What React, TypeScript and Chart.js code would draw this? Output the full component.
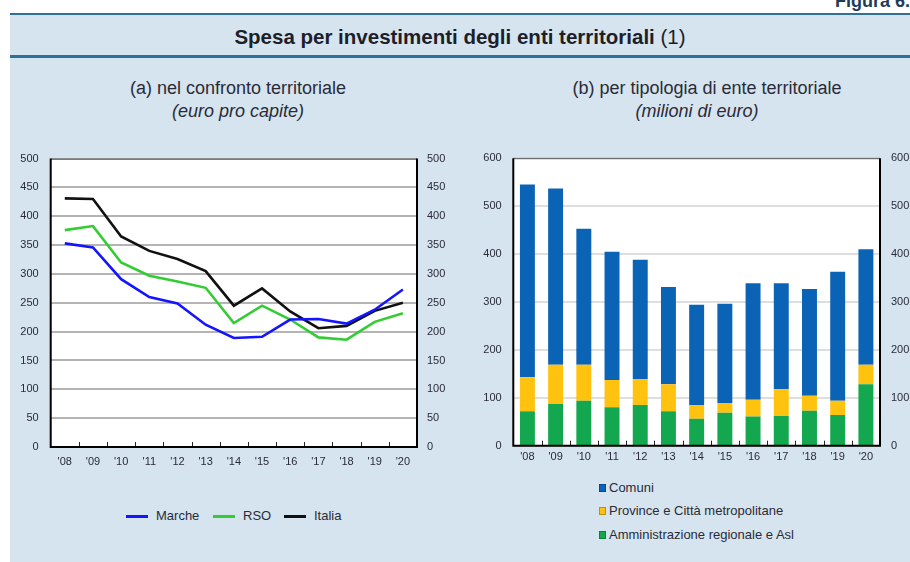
import React, { useEffect, useRef } from "react";
import { Chart, registerables } from "chart.js";

Chart.register(...registerables);

// ---------- data ----------
const years = ["'08", "'09", "'10", "'11", "'12", "'13", "'14", "'15", "'16", "'17", "'18", "'19", "'20"];

// panel (a): euro pro capite
const marche = [353, 346, 291, 260, 249, 212, 189, 191, 221, 222, 214, 238, 273];
const rso = [376, 383, 320, 297, 287, 276, 215, 245, 221, 190, 186, 217, 232];
const italia = [431, 430, 365, 340, 326, 305, 245, 275, 235, 206, 210, 236, 250];
const leftAxisMax = 500;
const leftAxisStep = 50;

// panel (b): milioni di euro
const amministrazione = [72, 87, 94, 80, 85, 72, 56, 69, 61, 62, 73, 64, 128];
const province = [71, 82, 75, 57, 54, 56, 29, 20, 35, 56, 31, 30, 41];
const comuni = [402, 368, 284, 268, 249, 203, 209, 207, 243, 221, 223, 269, 241];
const rightAxisMax = 600;
const rightAxisStep = 100;

const lineSeries = [
  { label: "Marche", data: marche, color: "#1414ff" },
  { label: "RSO", data: rso, color: "#33cc33" },
  { label: "Italia", data: italia, color: "#111111" },
];
const barSeries = [
  { label: "Amministrazione regionale e Asl", data: amministrazione, color: "#13a84f" },
  { label: "Province e Città metropolitane", data: province, color: "#ffc20e" },
  { label: "Comuni", data: comuni, color: "#0b63b6" },
];

// ---------- styles ----------
const FONT = "'Liberation Sans', Arial, sans-serif";
const TEXT = "#2b2b38";
const PANEL_BG = "#d5e4ee";
const RULE = "#2e7097";

// white plot area, grid lines and inward category ticks, then the frame on top
const makeAreaPlugin = (gridColor: string, gridWidth: number) => ({
  id: "areaFrame",
  beforeDatasetsDraw(chart: any) {
    const { ctx, chartArea: a, scales } = chart;
    if (!a) return;
    ctx.save();
    ctx.fillStyle = "#ffffff";
    ctx.fillRect(a.left, a.top, a.right - a.left, a.bottom - a.top);
    const y = scales.y;
    ctx.strokeStyle = gridColor;
    ctx.lineWidth = gridWidth;
    y.ticks.forEach((t: any) => {
      const py = Math.round(y.getPixelForValue(t.value));
      ctx.beginPath();
      ctx.moveTo(a.left, py);
      ctx.lineTo(a.right, py);
      ctx.stroke();
    });
    const x = scales.x;
    ctx.strokeStyle = "#222";
    ctx.lineWidth = 1;
    for (let i = 1; i < x.ticks.length; i++) {
      const px = Math.round((x.getPixelForTick(i - 1) + x.getPixelForTick(i)) / 2) + 0.5;
      ctx.beginPath();
      ctx.moveTo(px, a.bottom);
      ctx.lineTo(px, a.bottom - 5);
      ctx.stroke();
    }
    ctx.restore();
  },
  afterDatasetsDraw(chart: any) {
    const { ctx, chartArea: a } = chart;
    if (!a) return;
    ctx.save();
    ctx.strokeStyle = "#555555";
    ctx.lineWidth = 1;
    ctx.beginPath();
    ctx.moveTo(a.left, a.top + 0.5);
    ctx.lineTo(a.right, a.top + 0.5);
    ctx.stroke();
    ctx.strokeStyle = "#000000";
    ctx.lineWidth = 2;
    ctx.beginPath();
    ctx.moveTo(a.left, a.top);
    ctx.lineTo(a.left, a.bottom);
    ctx.lineTo(a.right, a.bottom);
    ctx.lineTo(a.right, a.top);
    ctx.stroke();
    ctx.restore();
  },
});

const tickFont = { family: FONT, size: 11 };
const noGrid = { display: false, drawTicks: false };

function LineChart() {
  const ref = useRef<HTMLCanvasElement>(null);
  useEffect(() => {
    if (!ref.current) return;
    const chart = new Chart(ref.current, {
      type: "line",
      data: {
        labels: years,
        datasets: lineSeries.map((s) => ({
          label: s.label,
          data: s.data,
          borderColor: s.color,
          backgroundColor: s.color,
          borderWidth: 2.6,
          pointRadius: 0,
          tension: 0,
          fill: false,
        })),
      },
      options: {
        responsive: false,
        animation: false,
        layout: { padding: { top: 12, left: 0, right: 0, bottom: 0 } },
        plugins: { legend: { display: false }, tooltip: { enabled: false } },
        scales: {
          x: {
            offset: true,
            grid: noGrid,
            border: { display: false },
            ticks: { padding: 8, maxRotation: 0, autoSkip: false, color: TEXT, font: tickFont },
            afterFit: (s: any) => { s.height = 23; },
          },
          y: {
            min: 0,
            max: leftAxisMax,
            ticks: { stepSize: leftAxisStep, padding: 12, color: TEXT, font: tickFont },
            grid: noGrid,
            border: { display: false },
            afterFit: (s: any) => { s.width = 40.7; },
          },
          y2: {
            position: "right",
            min: 0,
            max: leftAxisMax,
            ticks: { stepSize: leftAxisStep, padding: 10, color: TEXT, font: tickFont },
            grid: noGrid,
            border: { display: false },
            afterFit: (s: any) => { s.width = 53; },
          },
        },
      } as any,
      plugins: [makeAreaPlugin("#b4b4b4", 2)],
    });
    return () => chart.destroy();
  }, []);
  return <canvas ref={ref} width={460} height={330} style={{ position: "absolute", left: 10, top: 140, width: 460, height: 330 }} />;
}

function BarChart() {
  const ref = useRef<HTMLCanvasElement>(null);
  useEffect(() => {
    if (!ref.current) return;
    const chart = new Chart(ref.current, {
      type: "bar",
      data: {
        labels: years,
        datasets: barSeries.map((s) => ({
          label: s.label,
          data: s.data,
          backgroundColor: s.color,
          borderWidth: 0,
          barPercentage: 0.53,
          categoryPercentage: 1,
        })),
      },
      options: {
        responsive: false,
        animation: false,
        layout: { padding: { top: 12.7, left: 0, right: 0, bottom: 0 } },
        plugins: { legend: { display: false }, tooltip: { enabled: false } },
        scales: {
          x: {
            stacked: true,
            offset: true,
            grid: noGrid,
            border: { display: false },
            ticks: { padding: 5, maxRotation: 0, autoSkip: false, color: TEXT, font: tickFont },
            afterFit: (s: any) => { s.height = 24.3; },
          },
          y: {
            stacked: true,
            min: 0,
            max: rightAxisMax,
            ticks: { stepSize: rightAxisStep, padding: 11.6, color: TEXT, font: tickFont },
            grid: noGrid,
            border: { display: false },
            afterFit: (s: any) => { s.width = 43.3; },
          },
          y2: {
            position: "right",
            min: 0,
            max: rightAxisMax,
            ticks: { stepSize: rightAxisStep, padding: 11, color: TEXT, font: tickFont },
            grid: noGrid,
            border: { display: false },
            afterFit: (s: any) => { s.width = 60; },
          },
        },
      } as any,
      plugins: [makeAreaPlugin("#bdbdbd", 1)],
    });
    return () => chart.destroy();
  }, []);
  return <canvas ref={ref} width={470} height={330} style={{ position: "absolute", left: 470, top: 140, width: 470, height: 330 }} />;
}

const abs = (o: React.CSSProperties): React.CSSProperties => ({ position: "absolute", ...o });

export default function App() {
  const centered = (x: number, y: number, txt: string, extra: React.CSSProperties = {}) => (
    <div style={abs({ left: x - 200, top: y, width: 400, textAlign: "center", fontFamily: FONT, fontSize: 18, color: TEXT, whiteSpace: "nowrap", lineHeight: "20px", ...extra })}>{txt}</div>
  );
  return (
    <div style={{ position: "fixed", left: 0, top: 0, width: 910, height: 562, overflow: "hidden", background: "#ffffff" }}>
      <div style={abs({ left: 835, top: -8, fontFamily: FONT, fontWeight: "bold", fontSize: 18, lineHeight: "18px", color: "#1f3b5c", whiteSpace: "nowrap" })}>Figura 6.</div>
      <div style={abs({ left: 10, top: 13, right: 0, bottom: 0, background: PANEL_BG })} />
      <div style={abs({ left: 10, top: 12.5, right: 0, height: 2.5, background: RULE })} />
      <div style={abs({ left: 10, top: 55, right: 0, height: 2.5, background: RULE })} />
      <div style={abs({ left: 10, top: 25, width: 900, textAlign: "center", fontFamily: FONT, fontSize: 20.5, fontWeight: "bold", color: "#1e1e28", whiteSpace: "nowrap", lineHeight: "24px" })}>
        Spesa per investimenti degli enti territoriali <span style={{ fontWeight: "normal" }}>(1)</span>
      </div>
      {centered(238, 78, "(a) nel confronto territoriale")}
      {centered(238, 101, "(euro pro capite)", { fontStyle: "italic" })}
      {centered(707, 78, "(b) per tipologia di ente territoriale")}
      {centered(697, 101, "(milioni di euro)", { fontStyle: "italic" })}

      <LineChart />
      <BarChart />

      {/* legend (a) */}
      {lineSeries.map((s, i) => {
        const lx = [126, 213, 284][i];
        return (
          <React.Fragment key={s.label}>
            <div style={abs({ left: lx, top: 515, width: 22, height: 2.5, background: s.color })} />
            <div style={abs({ left: lx + 30, top: 508, fontFamily: FONT, fontSize: 13, color: TEXT, whiteSpace: "nowrap", lineHeight: "16px" })}>{s.label}</div>
          </React.Fragment>
        );
      })}

      {/* legend (b) */}
      {[...barSeries].reverse().map((s, i) => {
        const cy = [488, 511, 535][i];
        return (
          <React.Fragment key={s.label}>
            <div style={abs({ left: 599, top: cy - 4, width: 7, height: 8, background: s.color, boxShadow: "inset 0 0 0 1px rgba(0,0,0,0.25)" })} />
            <div style={abs({ left: 609, top: cy - 8, fontFamily: FONT, fontSize: 13, color: TEXT, whiteSpace: "nowrap", lineHeight: "16px" })}>{s.label}</div>
          </React.Fragment>
        );
      })}
    </div>
  );
}
